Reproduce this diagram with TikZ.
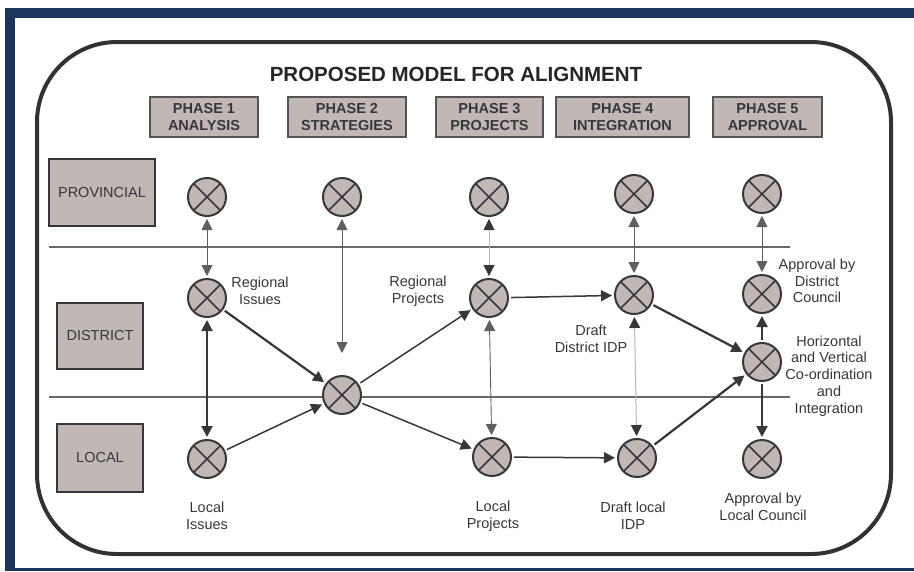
\documentclass[tikz,border=0pt]{standalone}
\usepackage{fontspec}
\setmainfont{Liberation Sans}
\usetikzlibrary{positioning,arrows.meta}
\definecolor{navy}{RGB}{27,55,94}
\definecolor{boxfill}{RGB}{193,184,182}
\definecolor{ink}{RGB}{55,55,58}
\definecolor{faint}{RGB}{185,185,185}
\tikzset{
  phase/.style={rectangle,draw=ink!85,fill=boxfill,line width=1.2pt,minimum height=40pt,align=center,text=ink,font=\bfseries\fontsize{14.5}{17}\selectfont},
  level/.style={rectangle,draw=ink,fill=boxfill,line width=1.2pt,text=ink,font=\fontsize{14.5}{17}\selectfont},
  xnode/.style={circle,draw=ink,fill=boxfill,line width=2pt,minimum size=38pt,inner sep=0pt,outer sep=3pt,
    path picture={\draw[ink,line width=1.7pt] (path picture bounding box.north west) -- (path picture bounding box.south east)
      (path picture bounding box.north east) -- (path picture bounding box.south west);}},
  lbl/.style={align=center,text=ink,font=\fontsize{14.5}{16.8}\selectfont},
  arrow/.style={-{Triangle[length=11pt,width=11pt]},line width=1.5pt,ink},
  thickarrow/.style={-{Triangle[length=11pt,width=11pt]},line width=2.2pt,ink},
  darrow/.style={{Triangle[length=11pt,width=11pt]}-{Triangle[length=11pt,width=11pt]},line width=0.9pt,ink!80},
  thickdarrow/.style={{Triangle[length=11pt,width=11pt]}-{Triangle[length=11pt,width=11pt]},line width=2pt,ink},
  faintdarrow/.style={{Triangle[length=11pt,width=11pt,color=ink]}-{Triangle[length=11pt,width=11pt,color=ink]},line width=1pt,faint}
}
\begin{document}
\begin{tikzpicture}[x=1pt,y=-1pt]
  \useasboundingbox (0,0) rectangle (914,571);
  % frame
  \fill[navy] (5,8) rectangle (914,18);
  \fill[navy] (5,8) rectangle (15,571);
  \fill[navy] (5,568) rectangle (914,571);
  \draw[ink!90!black,line width=4pt,rounded corners=80pt] (37,42) rectangle (891,554);

  \node[font=\bfseries\fontsize{20.5}{24}\selectfont,text=black!85] (title) at (456,74) {PROPOSED MODEL FOR ALIGNMENT};

  % phases
  \node[phase,minimum width=108pt] (ph1) at (204,117) {PHASE 1\\ANALYSIS};
  \node[phase,minimum width=118pt] (ph2) at (347,117) {PHASE 2\\STRATEGIES};
  \node[phase,minimum width=107pt] (ph3) at (489.5,117) {PHASE 3\\PROJECTS};
  \node[phase,minimum width=133pt] (ph4) at (622.5,117) {PHASE 4\\INTEGRATION};
  \node[phase,minimum width=109pt] (ph5) at (767.5,117) {PHASE 5\\APPROVAL};

  % levels
  \node[level,minimum width=106pt,minimum height=67pt] (prov) at (102,192.5) {PROVINCIAL};
  \node[level,minimum width=86pt,minimum height=66pt] (dist) at (100,336) {DISTRICT};
  \node[level,minimum width=86pt,minimum height=68pt] (loc) at (100,458) {LOCAL};

  \draw[ink!75,line width=1.2pt] (49,247) -- (790,247);
  \draw[ink!75,line width=1.2pt] (49,397) -- (790,397);

  % nodes
  \node[xnode] (p1) at (207,197) {};
  \node[xnode] (p2) at (342,197) {};
  \node[xnode] (p3) at (489,197) {};
  \node[xnode] (p4) at (634,194) {};
  \node[xnode] (p5) at (762,194) {};
  \node[xnode] (d1) at (207,298) {};
  \node[xnode] (d3) at (489,298) {};
  \node[xnode] (d4) at (634,295) {};
  \node[xnode] (d5) at (762,294) {};
  \node[xnode] (m2) at (342,395) {};
  \node[xnode] (hv) at (762,362) {};
  \node[xnode] (l1) at (207,459) {};
  \node[xnode] (l3) at (492,457) {};
  \node[xnode] (l4) at (637,458) {};
  \node[xnode] (l5) at (762,459) {};

  % labels
  \node[lbl] (regiss) at (260,291) {Regional\\Issues};
  \node[lbl] (regproj) at (418,291) {Regional\\Projects};
  \node[lbl] (distidp) at (591,339) {Draft\\District IDP};
  \node[lbl] (appdist) at (817,281) {Approval by\\District\\Council};
  \node[lbl] (coord) at (829,376) {Horizontal\\and Vertical\\Co-ordination\\and\\Integration};
  \node[lbl] (lociss) at (207,516) {Local\\Issues};
  \node[lbl] (locproj) at (493,516) {Local\\Projects};
  \node[lbl] (locidp) at (633,516) {Draft local\\IDP};
  \node[lbl] (apploc) at (763,507) {Approval by\\Local Council};

  % connectors
  \draw[darrow] (p1) -- (d1);
  \draw[darrow,shorten >=20pt] (p2) -- (m2);
  \draw[thickdarrow] (d1) -- (l1);
  \draw[thickarrow] (d1) -- (m2);
  \draw[arrow] (l1) -- (m2);
  \draw[arrow] (m2) -- (d3);
  \draw[arrow] (m2) -- (l3);
  \draw[faintdarrow] (p3) -- (d3);
  \draw[darrow] (d3) -- (l3);
  \draw[arrow] (d3) -- (d4);
  \draw[arrow] (l3) -- (l4);
  \draw[darrow] (p4) -- (d4);
  \draw[faintdarrow] (d4) -- (l4);
  \draw[thickarrow] (d4) -- (hv);
  \draw[thickarrow] (l4) -- (hv);
  \draw[darrow] (p5) -- (d5);
  \draw[thickarrow] (hv) -- (d5);
  \draw[thickarrow] (hv) -- (l5);
\end{tikzpicture}
\end{document}
